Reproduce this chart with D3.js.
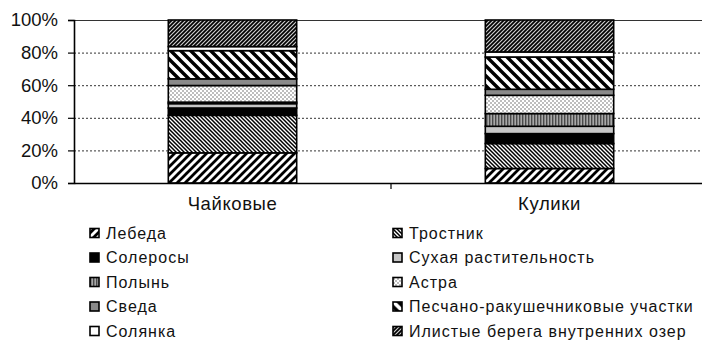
<!DOCTYPE html>
<html>
<head>
<meta charset="utf-8">
<script src="https://cdn.jsdelivr.net/npm/d3@7"></script>
<style>
  html, body { margin: 0; padding: 0; background: #fff; }
  svg { display: block; font-family: "Liberation Sans", Arial, sans-serif; }
</style>
</head>
<body>
<svg id="chart" width="702" height="342"></svg>
<script>
// Share of feeding habitats (%) for two bird groups
const groups = ["Чайковые", "Кулики"];
const habitats = [
  "Лебеда", "Тростник", "Солеросы", "Сухая растительность", "Полынь",
  "Астра", "Сведа", "Песчано-ракушечниковые участки", "Солянка",
  "Илистые берега внутренних озер"
];
const gullShares  = [18.5, 23.0, 4.5, 2.7, 0.9, 10.2, 4.1, 17.3, 2.5, 16.3];
const waderShares = [8.9, 15.3, 6.1, 4.5, 7.8, 11.2, 3.7, 19.8, 3.1, 19.6];
const yTicks = [0, 20, 40, 60, 80, 100];

const svg = d3.select("#chart");
const defs = svg.append("defs");

// Monochrome fills for each habitat
function stripes(id, size, d, width, bg, fg) {
  const p = defs.append("pattern").attr("id", id)
    .attr("patternUnits", "userSpaceOnUse").attr("width", size).attr("height", size);
  p.append("rect").attr("width", size).attr("height", size).attr("fill", bg);
  p.append("path").attr("d", d).attr("stroke", fg).attr("stroke-width", width)
    .attr("stroke-linecap", "square").attr("fill", "none");
}
function upPath(s) { // "/" lines
  return `M${-s/4},${s/4} L${s/4},${-s/4} M0,${s} L${s},0 M${s*3/4},${s*5/4} L${s*5/4},${s*3/4}`;
}
function downPath(s) { // "\" lines
  return `M${-s/4},${s*3/4} L${s/4},${s*5/4} M0,0 L${s},${s} M${s*3/4},${-s/4} L${s*5/4},${s/4}`;
}
stripes("p-lebeda", 8, upPath(8), 2.8, "#fff", "#000");
stripes("p-trostnik", 4, downPath(4), 1.5, "#fff", "#000");
stripes("p-peschano", 10, downPath(10), 3.4, "#fff", "#000");
stripes("p-ilistye", 4, upPath(4), 1.7, "#cfcfcf", "#000");

// dotted fill
(function () {
  const p = defs.append("pattern").attr("id", "p-astra")
    .attr("patternUnits", "userSpaceOnUse").attr("width", 4).attr("height", 4);
  p.append("rect").attr("width", 4).attr("height", 4).attr("fill", "#fff");
  p.append("rect").attr("width", 2).attr("height", 2).attr("fill", "#bdbdbd");
  p.append("rect").attr("x", 2).attr("y", 2).attr("width", 2).attr("height", 2).attr("fill", "#bdbdbd");
})();
// vertical stripes
(function () {
  const p = defs.append("pattern").attr("id", "p-polyn")
    .attr("patternUnits", "userSpaceOnUse").attr("width", 3).attr("height", 3);
  p.append("rect").attr("width", 3).attr("height", 3).attr("fill", "#a8a8a8");
  p.append("rect").attr("width", 1.4).attr("height", 3).attr("fill", "#4a4a4a");
})();

const fills = [
  "url(#p-lebeda)", "url(#p-trostnik)", "#000", "#c6c6c6", "url(#p-polyn)",
  "url(#p-astra)", "#8a8a8a", "url(#p-peschano)", "#fff", "url(#p-ilistye)"
];

// Plot geometry
const plot = { left: 74, right: 708, top: 20, bottom: 183 };

const x = d3.scaleBand().domain(groups).range([plot.left, plot.right]).padding(0);
const y = d3.scaleLinear().domain([0, 100]).range([plot.bottom, plot.top]);
const barW = x.bandwidth() * 0.405;

// Gridlines
svg.append("g").selectAll("line")
  .data(yTicks.filter(t => t > 0 && t < 100))
  .join("line")
  .attr("x1", plot.left).attr("x2", plot.right)
  .attr("y1", d => y(d) + 0.5).attr("y2", d => y(d) + 0.5)
  .attr("stroke", "#333").attr("stroke-width", 1).attr("stroke-dasharray", "2,2");
svg.append("line")
  .attr("x1", plot.left).attr("x2", plot.right)
  .attr("y1", y(100) + 0.5).attr("y2", y(100) + 0.5)
  .attr("stroke", "#333").attr("stroke-width", 1.2);

// Stacked bars
const rows = groups.map((g, i) => {
  const vals = i === 0 ? gullShares : waderShares;
  const r = { group: g };
  habitats.forEach((h, k) => { r[h] = vals[k]; });
  return r;
});
const series = d3.stack().keys(habitats)(rows);

svg.append("g").selectAll("g")
  .data(series)
  .join("g")
  .attr("fill", (d, i) => fills[i])
  .selectAll("rect")
  .data(d => d)
  .join("rect")
  .attr("x", d => x(d.data.group) + (x.bandwidth() - barW) / 2)
  .attr("width", barW)
  .attr("y", d => y(d[1]))
  .attr("height", d => y(d[0]) - y(d[1]))
  .attr("stroke", "#000")
  .attr("stroke-width", 1.6);

// Y axis
const yAxis = d3.axisLeft(y).tickValues(yTicks).tickFormat(d => d + "%")
  .tickSize(6).tickPadding(10);
const gy = svg.append("g").attr("transform", `translate(${plot.left},0)`).call(yAxis);
gy.select(".domain").attr("stroke", "#000").attr("stroke-width", 1.6);
gy.selectAll(".tick line").attr("stroke", "#000").attr("stroke-width", 1.2);
gy.selectAll(".tick text")
  .attr("font-family", "Liberation Sans, Arial, sans-serif")
  .attr("font-size", 18.5).attr("fill", "#111");

// X axis
const xAxis = d3.axisBottom(x).tickSize(0).tickPadding(14);
const gx = svg.append("g").attr("transform", `translate(0,${plot.bottom})`).call(xAxis);
gx.select(".domain").attr("stroke", "#000").attr("stroke-width", 1.6);
gx.selectAll(".tick text")
  .attr("font-family", "Liberation Sans, Arial, sans-serif")
  .attr("font-size", 18.5).attr("letter-spacing", 0.6).attr("fill", "#111");
// separator tick between the groups
gx.append("line")
  .attr("x1", x(groups[1])).attr("x2", x(groups[1]))
  .attr("y1", 0).attr("y2", 6)
  .attr("stroke", "#000").attr("stroke-width", 1.2);

// Legend (two columns, read row by row)
const legend = svg.append("g");
const item = legend.selectAll("g")
  .data(habitats)
  .join("g")
  .attr("transform", (d, i) => {
    const col = i % 2, row = Math.floor(i / 2);
    return `translate(${col === 0 ? 90 : 393},${233 + row * 24.5})`;
  });
item.append("rect")
  .attr("x", 0).attr("y", -4.5).attr("width", 9).attr("height", 9)
  .attr("fill", (d, i) => fills[i])
  .attr("stroke", "#000").attr("stroke-width", 1.6);
item.append("text")
  .attr("x", 16).attr("y", 0).attr("dy", "0.36em")
  .attr("font-size", 16).attr("letter-spacing", 1.0).attr("fill", "#111")
  .text(d => d);
</script>
</body>
</html>
